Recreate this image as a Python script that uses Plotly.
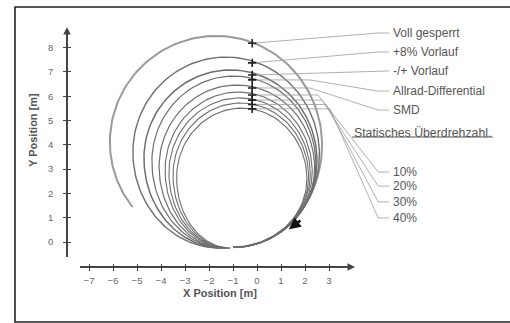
import numpy as np
import plotly.graph_objects as go

W, H = 510, 323

# ---- data (metres) ----
curve_names = ["Voll gesperrt", "+8% Vorlauf", "-/+ Vorlauf", "Allrad-Differential", "SMD",
               "10%", "20%", "30%", "40%"]
start_x = [-1.0, -1.0, -1.0, -1.0, -1.0, -1.0, -1.0, -1.0, -1.0]
start_y = [-0.22, -0.22, -0.22, -0.22, -0.22, -0.22, -0.22, -0.22, -0.22]
right_x = [2.71, 2.60, 2.50, 2.45, 2.40, 2.30, 2.22, 2.15, 2.08]
right_y = [4.00, 3.60, 3.35, 3.22, 3.05, 2.90, 2.80, 2.70, 2.60]
top_x = [-1.70, -1.30, -1.10, -0.97, -0.84, -0.77, -0.72, -0.68, -0.63]
top_y = [8.48, 7.61, 7.08, 6.83, 6.46, 6.17, 5.93, 5.72, 5.51]
left_x = [-6.13, -5.17, -4.71, -4.38, -4.08, -3.83, -3.67, -3.50, -3.35]
left_y = [4.10, 3.70, 3.45, 3.30, 3.10, 2.95, 2.85, 2.75, 2.65]
end_x = [-1.60, -1.55, -1.45, -1.35, -1.30, -1.25, -1.20, -1.15, -1.10]
end_y = [-0.25, -0.25, -0.25, -0.25, -0.25, -0.25, -0.25, -0.25, -0.25]
end_frac = [0.42, 1.0, 1.0, 1.0, 1.0, 1.0, 1.0, 1.0, 1.0]

marker_x = [-0.2] * 9
marker_y = [8.18, 7.37, 6.87, 6.67, 6.34, 6.05, 5.84, 5.66, 5.48]
elbow_x = [-0.2, -0.2, -0.2, 2.2, 2.2, 2.54, 2.71, 2.88, 3.04]
label_y = [8.60, 7.82, 7.04, 6.21, 5.43, 2.88, 2.30, 1.65, 0.99]
label_line_x0 = 5.05
label_line_x1 = 5.50
label_text_x = 5.58

heading = "Statisches Überdrehzahl."
heading_x0, heading_x1, heading_y = 3.96, 9.83, 4.49

x_ticks = [-7, -6, -5, -4, -3, -2, -1, 0, 1, 2, 3]
y_ticks = [0, 1, 2, 3, 4, 5, 6, 7, 8]

curve_color = ["#9a9a9a"] + ["#6e6e6e"] * 8
curve_width = [2.0, 1.4, 1.5, 1.2, 1.2, 1.1, 1.1, 1.1, 1.1]


def arc(cx, cy, rx, ry, a0, a1, n=40):
    t = np.radians(np.linspace(a0, a1, n))
    return cx + rx * np.cos(t), cy + ry * np.sin(t)


fig = go.Figure()

for i in range(len(curve_names)):
    segs = [
        arc(start_x[i], right_y[i], right_x[i] - start_x[i], right_y[i] - start_y[i], -90, 0),
        arc(top_x[i], right_y[i], right_x[i] - top_x[i], top_y[i] - right_y[i], 0, 90),
        arc(top_x[i], left_y[i], top_x[i] - left_x[i], top_y[i] - left_y[i], 90, 180),
        arc(end_x[i], left_y[i], end_x[i] - left_x[i], left_y[i] - end_y[i], 180, 180 + 90 * end_frac[i]),
    ]
    xs = np.concatenate([s[0] for s in segs])
    ys = np.concatenate([s[1] for s in segs])
    fig.add_trace(go.Scatter(x=xs, y=ys, mode="lines",
                             line=dict(color=curve_color[i], width=curve_width[i]),
                             hoverinfo="skip", showlegend=False))

# leader lines
for i in range(len(curve_names)):
    fig.add_trace(go.Scatter(
        x=[marker_x[i], elbow_x[i], label_line_x0, label_line_x1],
        y=[marker_y[i], marker_y[i], label_y[i], label_y[i]],
        mode="lines", line=dict(color="#9c9c9c", width=0.8),
        hoverinfo="skip", showlegend=False))

# markers on curves
fig.add_trace(go.Scatter(x=marker_x, y=marker_y, mode="markers",
                         marker=dict(symbol="cross-thin", size=6, line=dict(color="#222", width=1.6)),
                         hoverinfo="skip", showlegend=False))

# heading underline
fig.add_trace(go.Scatter(x=[heading_x0, heading_x1], y=[heading_y - 0.17, heading_y - 0.17], mode="lines",
                         line=dict(color="#555", width=1), hoverinfo="skip", showlegend=False))

font_main = "Arial, Liberation Sans, sans-serif"
annotations = []
for i, name in enumerate(curve_names):
    annotations.append(dict(x=label_text_x, y=label_y[i], xref="x", yref="y", text=name,
                            showarrow=False, xanchor="left", yanchor="middle",
                            font=dict(family=font_main, size=12, color="#555")))
annotations.append(dict(x=(heading_x0 + heading_x1) / 2, y=heading_y, xref="x", yref="y", text=heading,
                        showarrow=False, xanchor="center", yanchor="middle",
                        font=dict(family=font_main, size=12.3, color="#555")))

# direction arrow
annotations.append(dict(x=1.33, y=0.52, xref="x", yref="y", text="", showarrow=True,
                        ax=13, ay=-10, arrowhead=2, arrowsize=0.9, arrowwidth=2.6, arrowcolor="#111"))

# axis arrowheads
annotations.append(dict(x=67 / W, y=1 - 27 / H, xref="paper", yref="paper", text="", showarrow=True,
                        ax=0, ay=10, arrowhead=2, arrowsize=1, arrowwidth=1.5, arrowcolor="#444"))
annotations.append(dict(x=355 / W, y=1 - 267 / H, xref="paper", yref="paper", text="", showarrow=True,
                        ax=-10, ay=0, arrowhead=2, arrowsize=1, arrowwidth=1.5, arrowcolor="#444"))

# axis titles
annotations.append(dict(x=33 / W, y=1 - 130 / H, xref="paper", yref="paper", text="<b>Y Position [m]</b>",
                        showarrow=False, textangle=-90, xanchor="center", yanchor="middle",
                        font=dict(family=font_main, size=11, color="#555")))
annotations.append(dict(x=220 / W, y=1 - 293 / H, xref="paper", yref="paper", text="<b>X Position [m]</b>",
                        showarrow=False, xanchor="center", yanchor="middle",
                        font=dict(family=font_main, size=11, color="#555")))

# dummy traces to create visible-axis subplots
fig.add_trace(go.Scatter(x=[None], y=[None], xaxis="x2", yaxis="y2", showlegend=False, hoverinfo="skip"))
fig.add_trace(go.Scatter(x=[None], y=[None], xaxis="x3", yaxis="y3", showlegend=False, hoverinfo="skip"))

px_per_x = 24.0
px_per_y = 24.3
x0_px, y0_px = 257, 242

x2_dom = [80 / W, 353 / W]
y2_dom = [1 - 257 / H, 1 - 29 / H]
x2_rng = [(80 - x0_px) / px_per_x, (353 - x0_px) / px_per_x]
y2_rng = [(y0_px - 257) / px_per_y, (y0_px - 29) / px_per_y]

tickfont = dict(family=font_main, size=9.5, color="#666")

fig.update_layout(
    width=W, height=H, margin=dict(l=0, r=0, t=0, b=0),
    paper_bgcolor="white", plot_bgcolor="rgba(0,0,0,0)",
    xaxis=dict(domain=[0, 1], range=[-x0_px / px_per_x, (W - x0_px) / px_per_x], visible=False, fixedrange=True),
    yaxis=dict(domain=[0, 1], range=[(y0_px - H) / px_per_y, y0_px / px_per_y], visible=False, fixedrange=True),
    xaxis2=dict(domain=x2_dom, range=x2_rng, anchor="free", position=1 - 267 / H,
                tickvals=x_ticks, ticks="outside", ticklen=3, tickwidth=1.2, tickcolor="#444",
                showline=True, linecolor="#444", linewidth=1.6, showgrid=False, zeroline=False,
                tickfont=tickfont, ticklabelstandoff=2, fixedrange=True),
    yaxis2=dict(domain=y2_dom, range=y2_rng, anchor="free", position=67 / W,
                tickvals=y_ticks, ticks="outside", ticklen=3, tickwidth=1.2, tickcolor="#444",
                showline=True, linecolor="#444", linewidth=1.6, showgrid=False, zeroline=False,
                tickfont=tickfont, ticklabelstandoff=8, fixedrange=True),
    xaxis3=dict(overlaying="x2", range=x2_rng, anchor="free", position=1 - 267 / H,
                tickvals=x_ticks, ticks="inside", ticklen=3, tickwidth=1.2, tickcolor="#444",
                showticklabels=False, showline=False, showgrid=False, zeroline=False, fixedrange=True),
    yaxis3=dict(overlaying="y2", range=y2_rng, anchor="free", position=67 / W,
                tickvals=y_ticks, ticks="inside", ticklen=3, tickwidth=1.2, tickcolor="#444",
                showticklabels=False, showline=False, showgrid=False, zeroline=False, fixedrange=True),
    annotations=annotations,
    shapes=[dict(type="rect", xref="paper", yref="paper", x0=15 / W, x1=1.01, y0=1 - 322 / H, y1=1 - 7 / H,
                 line=dict(color="#222", width=1.6), fillcolor="rgba(0,0,0,0)", layer="below")],
)

fig.write_html("out.html", config={"displayModeBar": False},
               post_script="document.body.style.margin='0';document.body.style.overflow='hidden';")
